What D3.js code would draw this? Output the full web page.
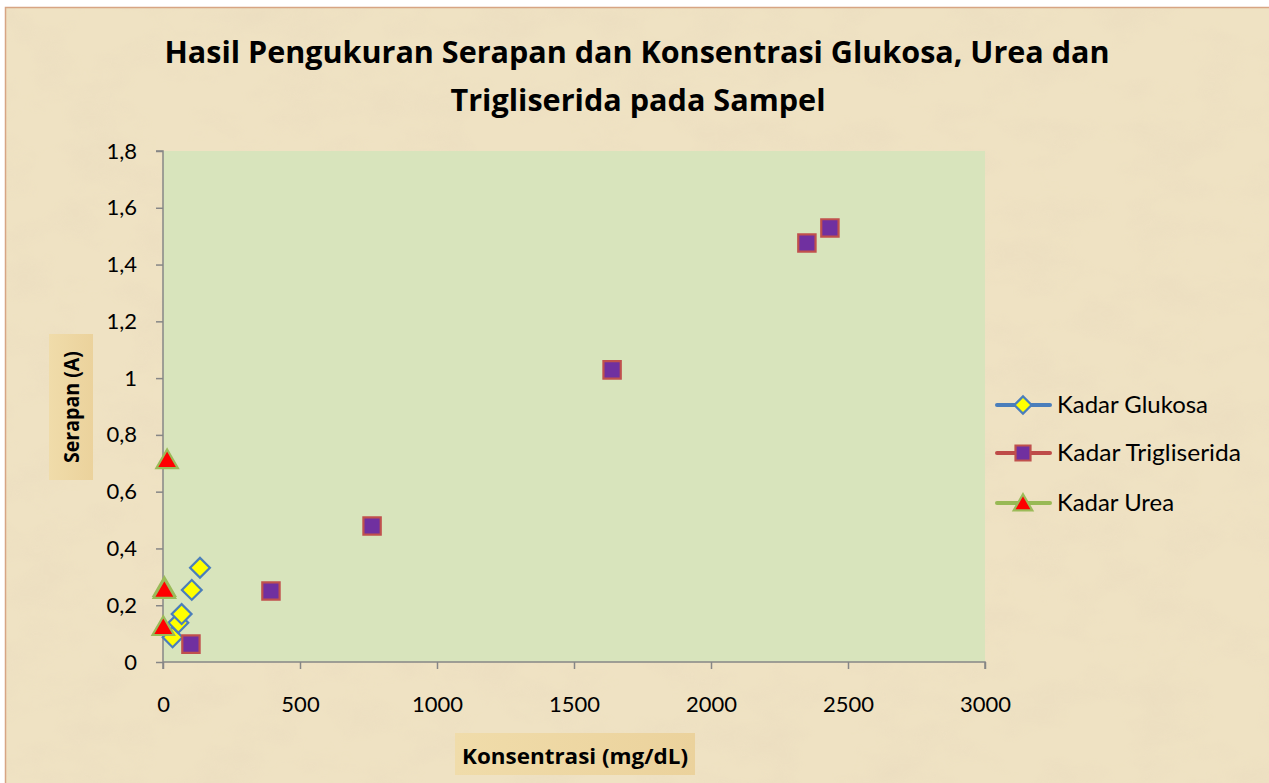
<!DOCTYPE html>
<html>
<head>
	<meta charset="utf-8">
	<title>Serapan</title>
	<script src="https://d3js.org/d3.v7.min.js"></script>
	<style>
		html, body { margin: 0; background: white; overflow: hidden; }
		text { font-family: Lato, "Open Sans", sans-serif; fill: #000; }
		text.os { font-family: "Open Sans", sans-serif; }
	</style>
</head>
<body>
	<svg id="svg"></svg>
	<script>
		// data
		const glukosaX = [35, 56, 68, 105, 135];
		const glukosaY = [0.087, 0.138, 0.169, 0.254, 0.332];
		const trigX = [102, 394, 763, 1639, 2350, 2434];
		const trigY = [0.063, 0.250, 0.479, 1.029, 1.476, 1.529];
		const ureaX = [15, 5, 5, 1];
		const ureaY = [0.712, 0.262, 0.255, 0.124];
		const xTicks = [0, 500, 1000, 1500, 2000, 2500, 3000];
		const yTicks = [0, 0.2, 0.4, 0.6, 0.8, 1, 1.2, 1.4, 1.6, 1.8];
		const seriesNames = ["Kadar Glukosa", "Kadar Trigliserida", "Kadar Urea"];

		const W = 1269, H = 783;
		const plot = { left: 163, right: 985, top: 151, bottom: 662 };

		const svg = d3.select("#svg").attr("width", W).attr("height", H);

		// parchment texture
		const defs = svg.append("defs");
		const f = defs.append("filter").attr("id", "paper").attr("x", 0).attr("y", 0).attr("width", "100%").attr("height", "100%");
		f.append("feTurbulence").attr("type", "fractalNoise").attr("baseFrequency", "0.015 0.025").attr("numOctaves", 4).attr("seed", 7).attr("result", "noise");
		f.append("feColorMatrix").attr("in", "noise").attr("type", "matrix")
			.attr("values", "0 0 0 0 0.82  0 0 0 0 0.71  0 0 0 0 0.52  0 0 0 -1.8 1.05").attr("result", "tint");
		f.append("feComposite").attr("in", "tint").attr("in2", "SourceGraphic").attr("operator", "in");

		const boxGrad = defs.append("linearGradient").attr("id", "box");
		boxGrad.append("stop").attr("offset", "0%").attr("stop-color", "#f0dcaa");
		boxGrad.append("stop").attr("offset", "100%").attr("stop-color", "#ebd29c");

		svg.append("rect").attr("x", 5).attr("y", 7).attr("width", W - 5).attr("height", H - 7)
			.attr("fill", "#efe2c3");
		svg.append("rect").attr("x", 5).attr("y", 7).attr("width", W - 5).attr("height", H - 7)
			.attr("fill", "#efe2c3").attr("filter", "url(#paper)").attr("opacity", 0.6);
		svg.append("path").attr("d", `M5.5,${H} V7.5 H${W}`).attr("fill", "none")
			.attr("stroke", "#d7a583").attr("stroke-width", 1.5);

		// plot area
		svg.append("rect")
			.attr("x", plot.left).attr("y", plot.top)
			.attr("width", plot.right - plot.left).attr("height", plot.bottom - plot.top)
			.attr("fill", "#d8e4bc");

		const x = d3.scaleLinear().domain([0, 3000]).range([plot.left, plot.right]);
		const y = d3.scaleLinear().domain([0, 1.8]).range([plot.bottom, plot.top]);
		const fmt = d => String(+d.toFixed(1)).replace(".", ",");

		const xAxis = svg.append("g")
			.attr("transform", `translate(0,${plot.bottom})`)
			.call(d3.axisBottom(x).tickValues(xTicks).tickSize(7).tickPadding(27).tickFormat(d3.format("d")));
		const yAxis = svg.append("g")
			.attr("transform", `translate(${plot.left},0)`)
			.call(d3.axisLeft(y).tickValues(yTicks).tickSize(7).tickPadding(19).tickFormat(fmt));
		[xAxis, yAxis].forEach(a => {
			a.select(".domain").attr("stroke", "#868686").attr("stroke-width", 1.5);
			a.selectAll(".tick line").attr("stroke", "#868686").attr("stroke-width", 1.5);
			a.selectAll(".tick text").attr("font-size", 22).attr("fill", "#000");
		});
		yAxis.select(".domain").attr("d", `M-7,${plot.top}H0V${plot.bottom + 7}`);
		xAxis.select(".domain").attr("d", `M${plot.left},0H${plot.right}V7`);

		// title
		const title = svg.append("g").attr("font-weight", "bold").attr("font-size", 30).attr("text-anchor", "middle");
		title.append("text").attr("class", "os").attr("x", 637).attr("y", 63)
			.attr("textLength", 945).attr("lengthAdjust", "spacingAndGlyphs")
			.text("Hasil Pengukuran Serapan dan Konsentrasi Glukosa, Urea dan");
		title.append("text").attr("class", "os").attr("x", 638).attr("y", 111)
			.attr("textLength", 375).attr("lengthAdjust", "spacingAndGlyphs")
			.text("Trigliserida pada Sampel");

		// axis titles
		svg.append("rect").attr("x", 455).attr("y", 733).attr("width", 240).attr("height", 42).attr("fill", "url(#box)");
		svg.append("text").attr("class", "os").attr("x", 575).attr("y", 764).attr("text-anchor", "middle")
			.attr("font-weight", "bold").attr("font-size", 21)
			.attr("textLength", 226).attr("lengthAdjust", "spacingAndGlyphs")
			.text("Konsentrasi (mg/dL)");
		svg.append("rect").attr("x", 49).attr("y", 334).attr("width", 44).attr("height", 146).attr("fill", "url(#box)");
		svg.append("text").attr("class", "os").attr("transform", "translate(79,407) rotate(-90)").attr("text-anchor", "middle")
			.attr("font-weight", "bold").attr("font-size", 21)
			.attr("textLength", 112).attr("lengthAdjust", "spacingAndGlyphs")
			.text("Serapan (A)");

		// markers
		const series = [
			{ name: seriesNames[0], xs: glukosaX, ys: glukosaY, line: "#4a7ebb", fill: "#ffff00", stroke: "#4a7ebb", sym: d3.symbolSquare2, size: 250, rot: 45, len: 151 },
			{ name: seriesNames[1], xs: trigX, ys: trigY, line: "#be4b48", fill: "#7030a0", stroke: "#c0504d", sym: d3.symbolSquare, size: 300, rot: 0, len: 184 },
			{ name: seriesNames[2], xs: ureaX, ys: ureaY, line: "#98b954", fill: "#ff0000", stroke: "#9bbb59", sym: d3.symbolTriangle, size: 200, rot: 0, len: 117 }
		];

		function marker(sel, s) {
			sel.append("path")
				.attr("d", d3.symbol().type(s.sym).size(s.size)())
				.attr("transform", (s.rot ? `rotate(${s.rot})` : "") + (s.sym === d3.symbolTriangle ? " translate(0,2)" : ""))
				.attr("fill", s.fill).attr("stroke", s.stroke).attr("stroke-width", 2.2);
		}

		series.forEach(s => {
			const pts = s.xs.map((v, i) => [v, s.ys[i]]);
			svg.append("g").selectAll("g")
				.data(pts)
				.join("g")
				.attr("transform", d => `translate(${x(d[0])},${y(d[1])})`)
				.each(function () { marker(d3.select(this), s); });
		});

		// legend
		const legendY = [405, 453, 503];
		series.forEach((s, i) => {
			const g = svg.append("g").attr("transform", `translate(0,${legendY[i]})`);
			g.append("line").attr("x1", 997).attr("x2", 1050).attr("y1", 0).attr("y2", 0)
				.attr("stroke", s.line).attr("stroke-width", 4).attr("stroke-linecap", "round");
			const m = g.append("g").attr("transform", "translate(1023,0)");
			marker(m, Object.assign({}, s, { size: s.size * 0.75 }));
			g.append("text").attr("x", 1057).attr("y", 8).attr("font-size", 23)
				.attr("textLength", s.len).attr("lengthAdjust", "spacingAndGlyphs").text(s.name);
		});
	</script>
</body>
</html>
